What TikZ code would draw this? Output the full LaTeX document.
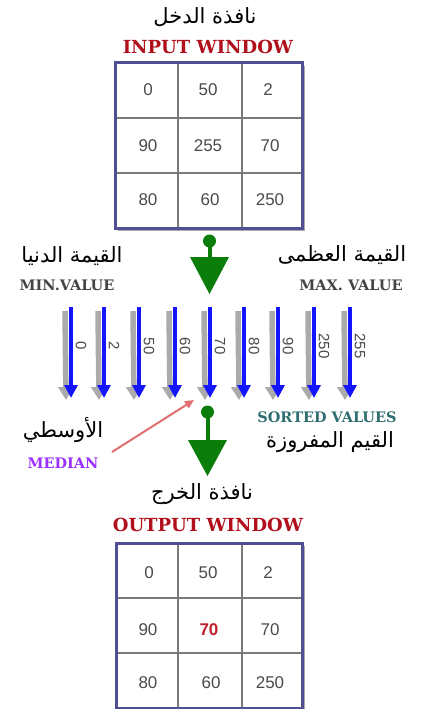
\documentclass[tikz,border=0pt]{standalone}
\usepackage{fontspec}
\setmainfont{Liberation Sans}
\newfontfamily\arabicfont[Script=Arabic]{DejaVu Sans}
\newfontfamily\titlefont{DejaVu Serif}
\TeXXeTstate=1
\usetikzlibrary{arrows.meta}
\definecolor{gridframe}{HTML}{4F4F91}
\definecolor{gridline}{HTML}{7A7A7A}
\definecolor{numgray}{HTML}{4A4A4A}
\definecolor{winred}{HTML}{B0101C}
\definecolor{valgray}{HTML}{444444}
\definecolor{sortteal}{HTML}{2E6E70}
\definecolor{medpurple}{HTML}{9B30FF}
\definecolor{arrgreen}{HTML}{0A7D0A}
\definecolor{arrblue}{HTML}{1414FF}
\definecolor{shadowgray}{HTML}{ABABAB}
\definecolor{pinkarrow}{HTML}{E07070}
\definecolor{medred}{HTML}{C0202C}
\tikzset{
  num/.style={font=\fontsize{17}{19}\selectfont, text=numgray},
  artext/.style={font=\arabicfont\fontsize{21}{23}\selectfont, text=black},
  entitle/.style={font=\titlefont\bfseries\fontsize{18}{20}\selectfont},
  smalltitle/.style={font=\titlefont\bfseries\fontsize{14.5}{16}\selectfont},
  vallabel/.style={font=\fontsize{15}{16}\selectfont, text=numgray, rotate=-90},
  frameline/.style={draw=gridframe, line width=3pt},
  innerline/.style={draw=gridline, line width=1.8pt},
  greenarrow/.style={fill=arrgreen, draw=none},
  bluearrow/.style={draw=arrblue, line width=3.2pt, -{Triangle[length=13pt,width=13pt]}},
  shadowarrow/.style={draw=shadowgray, line width=5.5pt, -{Triangle[length=13pt,width=15pt]}},
  medarrow/.style={draw=pinkarrow, line width=2pt, -{Triangle[length=9pt,width=8pt]}}
}
\begin{document}
\begin{tikzpicture}[x=1pt,y=-1pt]
\useasboundingbox (0,0) rectangle (422,709);
\fill[white] (0,0) rectangle (422,709);

% ---------- input window ----------
\node[artext] (intitle) at (205,17) {\beginR نافذة الدخل\endR};
\node[entitle, text=winred] (inlbl) at (208,47) {INPUT WINDOW};
\fill[shadowgray] (118,66) rectangle (305,231);
\fill[white] (115,63) rectangle (302,228);
\draw[innerline] (178,63) -- (178,228) (242,63) -- (242,228)
                 (115,118) -- (302,118) (115,173) -- (302,173);
\node[frameline, minimum width=187pt, minimum height=165pt, inner sep=0pt] (ingrid) at (208.5,145.5) {};
\node[num] (i11) at (148,90) {0};
\node[num] (i12) at (208,90) {50};
\node[num] (i13) at (268,90) {2};
\node[num] (i21) at (148,146) {90};
\node[num] (i22) at (208,146) {255};
\node[num] (i23) at (270,146) {70};
\node[num] (i31) at (148,200) {80};
\node[num] (i32) at (210,200) {60};
\node[num] (i33) at (270,200) {250};

% ---------- first green arrow ----------
\coordinate (g1c) at (209.5,241);
\fill[greenarrow] (g1c) circle (6.5);
\fill[greenarrow] (207.5,241) rectangle (211.5,258);
\fill[greenarrow] (190,257) -- (229,257) -- (209.5,294) -- cycle;

% ---------- min / max labels ----------
\node[artext] (minar) at (72,256) {\beginR القيمة الدنيا\endR};
\node[smalltitle, text=valgray] (minlbl) at (67,285) {MIN.VALUE};
\node[artext] (maxar) at (342,255) {\beginR القيمة العظمى\endR};
\node[smalltitle, text=valgray] (maxlbl) at (351,285) {MAX. VALUE};

% ---------- sorted arrows ----------
\foreach \x/\v [count=\i] in {71/0,104/2,139/50,175/60,210/70,244/80,278/90,314/250,350/255}{
  \coordinate (s\i top) at (\x-6,311);
  \coordinate (s\i bot) at (\x-5,400);
  \draw[shadowarrow] (s\i top) -- (s\i bot);
  \coordinate (b\i top) at (\x,307);
  \coordinate (b\i bot) at (\x,398);
  \draw[bluearrow] (b\i top) -- (b\i bot);
  \node[vallabel] (v\i) at (\x+10,346) {\v};
}

% ---------- second green arrow ----------
\coordinate (g2c) at (207.5,412);
\fill[greenarrow] (g2c) circle (6.5);
\fill[greenarrow] (205.5,412) rectangle (209.5,441);
\fill[greenarrow] (188,440) -- (227,440) -- (207.5,476) -- cycle;

% ---------- median / sorted labels ----------
\node[artext] (medar) at (63,430) {\beginR الأوسطي\endR};
\node[smalltitle, text=medpurple] (medlbl) at (63,463) {MEDIAN};
\coordinate (medtail) at (112,452);
\coordinate (medtip) at (194,400);
\draw[medarrow] (medtail) -- (medtip);
\node[smalltitle, text=sortteal] (sortlbl) at (327,417) {SORTED VALUES};
\node[artext] (sortar) at (330,442) {\beginR القيم المفروزة\endR};

% ---------- output window ----------
\node[artext] (outtitle) at (202,494) {\beginR نافذة الخرج\endR};
\node[entitle, text=winred] (outlbl) at (208,525) {OUTPUT WINDOW};
\fill[shadowgray] (119,546) rectangle (305,711);
\fill[white] (116,543) rectangle (302,708);
\draw[innerline] (178,543) -- (178,708) (242,543) -- (242,708)
                 (116,598) -- (302,598) (116,653) -- (302,653);
\node[frameline, minimum width=186pt, minimum height=165pt, inner sep=0pt] (outgrid) at (209,625.5) {};
\node[num] (o11) at (149,573) {0};
\node[num] (o12) at (208,573) {50};
\node[num] (o13) at (268,573) {2};
\node[num] (o21) at (148,630) {90};
\node[num, text=medred, font=\bfseries\fontsize{17}{19}\selectfont] (o22) at (209,630) {70};
\node[num] (o23) at (270,630) {70};
\node[num] (o31) at (148,683) {80};
\node[num] (o32) at (211,683) {60};
\node[num] (o33) at (270,683) {250};
\end{tikzpicture}
\end{document}
